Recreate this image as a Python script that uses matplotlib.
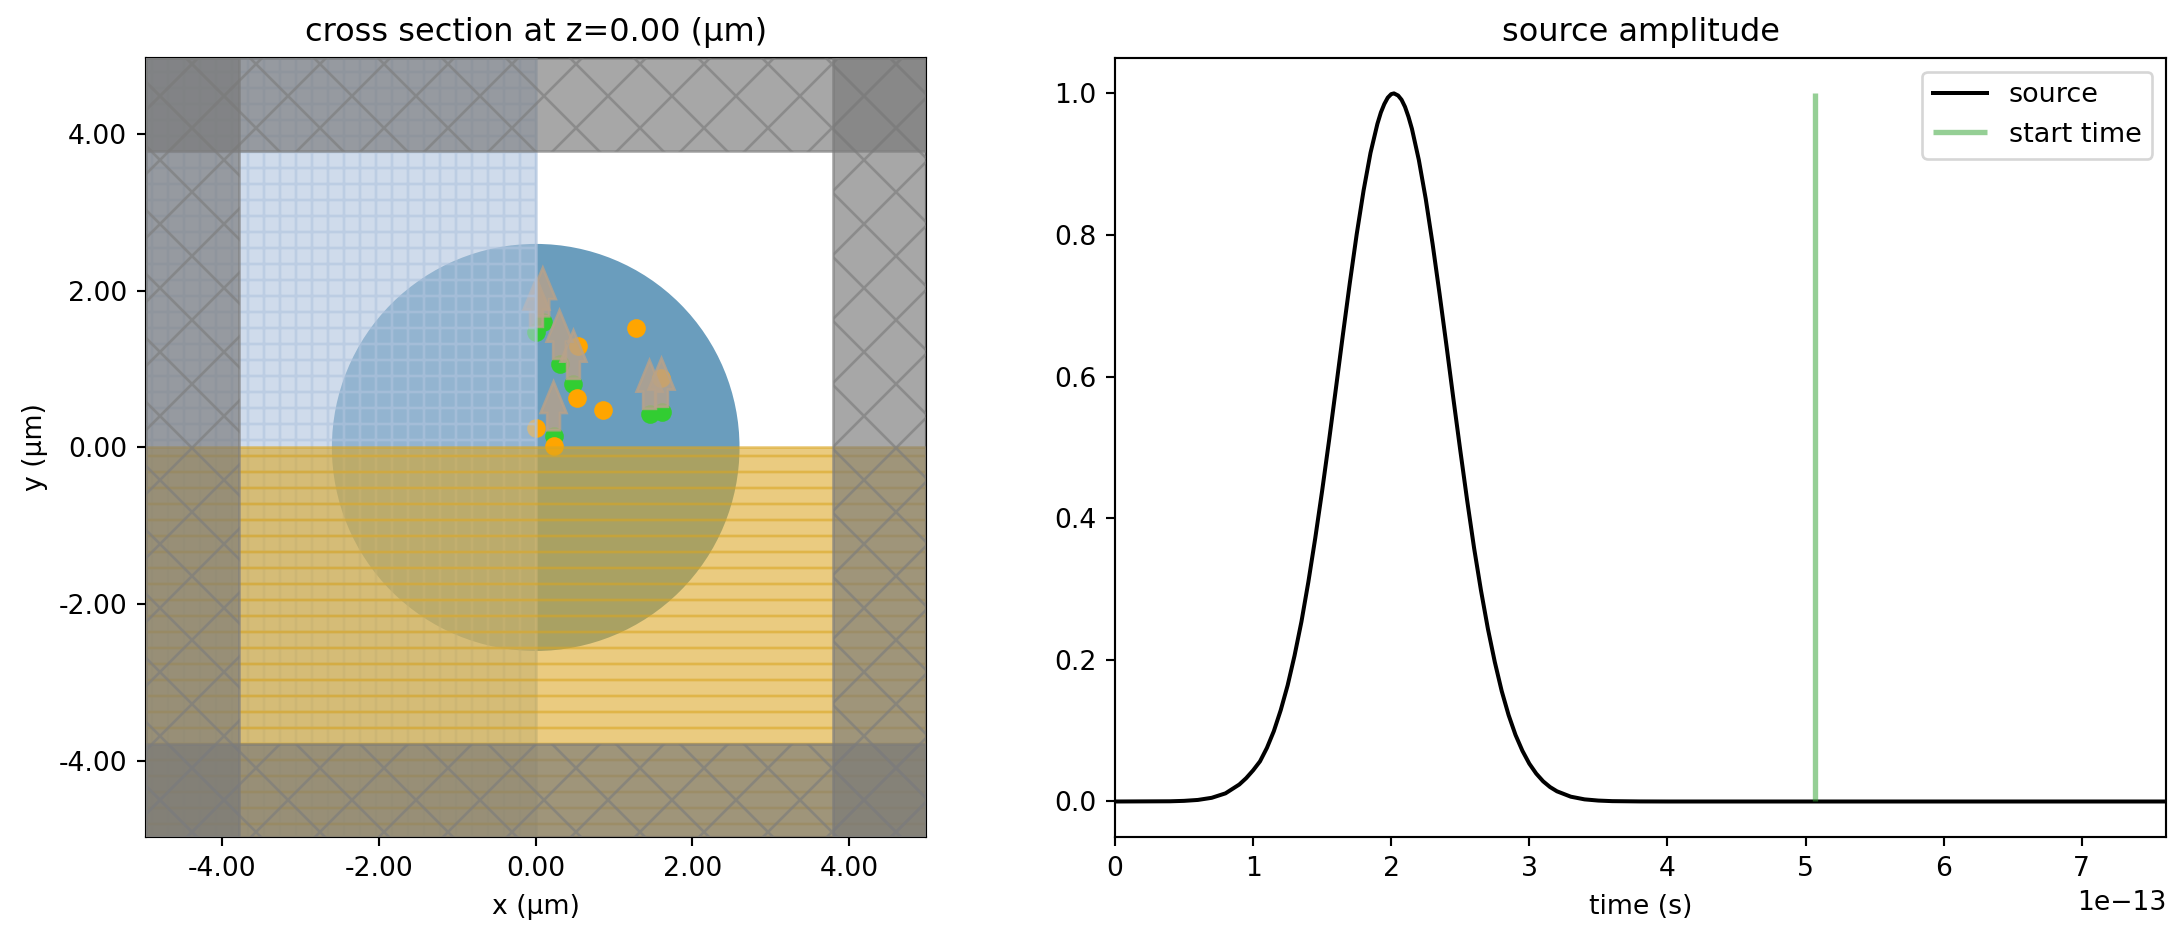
import matplotlib
matplotlib.use("Agg")
import matplotlib.pyplot as plt
from matplotlib.patches import Rectangle, Circle

#-----------------DATA-----------------#

circle_radius = 2.6
sim_half = 4.975
pml_inner = 3.79

# orange points (um)
orange_x = [1.278, 0.539, 0.521, 0.864, 1.592, 0.010, 0.228]
orange_y = [1.520, 1.292, 0.629, 0.475, 0.893, 0.244, 0.015]

# green points, the arrows start just above them
green_x = [0.091, 0.010, 0.304, 0.482, 1.452, 1.605, 0.228]
green_y = [1.605, 1.470, 1.061, 0.806, 0.423, 0.449, 0.150]
arrow_gap = 0.07
arrow_len = 0.62

ticks_xy = [-4, -2, 0, 2, 4]

# source amplitude, time in units of 1e-13 s
time_13 = [0.0, 0.4, 0.5, 0.6, 0.7, 0.8, 0.9, 0.95, 1.0, 1.05, 1.1, 1.15, 1.2, 1.25, 1.3, 1.35, 1.4, 1.45, 1.5,
           1.55, 1.6, 1.65, 1.7, 1.75, 1.8, 1.85, 1.9, 1.925, 1.95, 1.975, 2.0, 2.02, 2.05, 2.075, 2.1, 2.125, 2.15,
           2.2, 2.25, 2.3, 2.35, 2.4, 2.45, 2.5, 2.55, 2.6, 2.65, 2.7, 2.75, 2.8, 2.85, 2.9, 2.95, 3.0, 3.05, 3.1,
           3.15, 3.2, 3.3, 3.4, 3.5, 3.6, 3.8, 4.0, 7.61]
amplitude = [0.0, 0.0003, 0.0009, 0.0022, 0.0052, 0.0115, 0.024, 0.033, 0.044, 0.0567, 0.0757, 0.0993, 0.129,
             0.164, 0.206, 0.254, 0.310, 0.372, 0.439, 0.510, 0.584, 0.659, 0.732, 0.801, 0.863, 0.916, 0.957,
             0.973, 0.985, 0.994, 0.999, 1.0, 0.997, 0.991, 0.981, 0.967, 0.950, 0.906, 0.851, 0.787, 0.717, 0.644,
             0.569, 0.496, 0.425, 0.358, 0.298, 0.244, 0.197, 0.156, 0.122, 0.094, 0.0716, 0.0534, 0.0394, 0.0285,
             0.0204, 0.0144, 0.0068, 0.003, 0.0013, 0.0005, 0.0001, 0.0, 0.0]
start_time = 5.07
xticks_t = [0, 1, 2, 3, 4, 5, 6, 7]
yticks_a = [0.0, 0.2, 0.4, 0.6, 0.8, 1.0]

#-----------------FIGURE-----------------#

W, H = 2184, 940
DPI = 192
fig = plt.figure(figsize=(W / DPI, H / DPI), dpi=DPI)


def axes_px(x0, x1, y0, y1):
    return fig.add_axes([x0 / W, 1 - y1 / H, (x1 - x0) / W, (y1 - y0) / H])


ax = axes_px(145.7, 925.7, 58, 836.9)
ax.set_xlim(-sim_half, sim_half)
ax.set_ylim(-sim_half, sim_half)

ax.add_patch(Circle((0, 0), circle_radius, facecolor="#6a9dbd", edgecolor="none", zorder=1))
ax.scatter(green_x, green_y, s=49, color="#32cd32", linewidths=0, zorder=2)
ax.scatter(orange_x, orange_y, s=49, color="orange", linewidths=0, zorder=3)
for x, y in zip(green_x, green_y):
    ax.arrow(x, y + arrow_gap, 0, arrow_len, width=0.163, head_width=0.33, head_length=0.40,
             length_includes_head=True, color=(184 / 255, 162 / 255, 138 / 255), alpha=0.8, linewidth=1, zorder=4)

# hatched boxes
ax.add_patch(Rectangle((-sim_half, -sim_half), sim_half, 2 * sim_half, facecolor="lightsteelblue",
                       edgecolor="lightsteelblue", hatch="++", alpha=0.6, linewidth=1, zorder=5))
ax.add_patch(Rectangle((-sim_half, -sim_half), 2 * sim_half, sim_half, facecolor="goldenrod",
                       edgecolor="goldenrod", hatch="--", alpha=0.57, linewidth=1, zorder=6))

# pml
pml = 2 * sim_half
thick = sim_half - pml_inner
for x, y, w, h in [(-sim_half, -sim_half, thick, pml), (pml_inner, -sim_half, thick, pml),
                   (-sim_half, pml_inner, pml, thick), (-sim_half, -sim_half, pml, thick)]:
    ax.add_patch(Rectangle((x, y), w, h, facecolor=(120 / 255,) * 3, edgecolor=(125 / 255,) * 3,
                           hatch="x", alpha=0.65, linewidth=1, zorder=7))

ax.set_xticks(ticks_xy)
ax.set_yticks(ticks_xy)
ax.set_xticklabels(["%.2f" % t for t in ticks_xy])
ax.set_yticklabels(["%.2f" % t for t in ticks_xy])
ax.set_xlabel("x (μm)", labelpad=4.5)
ax.set_ylabel("y (μm)")
ax.set_title("cross section at z=0.00 (μm)", pad=6.5)

ax2 = axes_px(1115, 2166, 58, 836.9)
ax2.plot([t * 1e-13 for t in time_13], amplitude, color="k", lw=1.5, label="source")
ax2.plot([start_time * 1e-13, start_time * 1e-13], [0, 1], color="tab:green", alpha=0.5, lw=2,
         solid_capstyle="butt", label="start time")
ax2.set_xlim(0, 7.61e-13)
ax2.set_ylim(-0.05, 1.05)
ax2.set_xticks([t * 1e-13 for t in xticks_t])
ax2.set_yticks(yticks_a)
ax2.set_xlabel("time (s)", labelpad=4.5)
ax2.set_title("source amplitude", pad=6.5)
ax2.legend(loc="upper right", fontsize=10.15)

fig.savefig("out.png", dpi=DPI)
